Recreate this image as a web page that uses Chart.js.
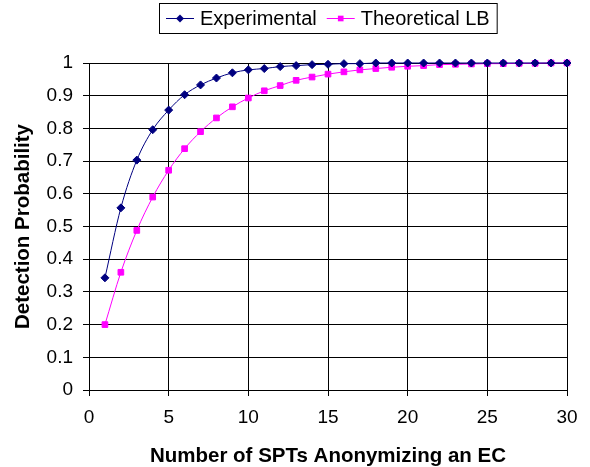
<!DOCTYPE html>
<html>
<head>
<meta charset="utf-8">
<script src="https://cdn.jsdelivr.net/npm/chart.js@4.4.1/dist/chart.umd.min.js"></script>
<style>
html,body{margin:0;padding:0;background:#fff;}
#wrap{width:590px;height:467px;}
</style>
</head>
<body>
<div id="wrap"><canvas id="c" width="590" height="467"></canvas></div>
<script>
const xValues = [1,2,3,4,5,6,7,8,9,10,11,12,13,14,15,16,17,18,19,20,21,22,23,24,25,26,27,28,29,30];
const experimental = [0.343,0.557,0.703,0.796,0.856,0.903,0.933,0.954,0.970,0.979,0.983,0.989,0.992,0.995,0.996,0.998,0.998,1.0,1.0,1.0,1.0,1.0,1.0,1.0,1.0,1.0,1.0,1.0,1.0,1.0];
const theoreticalLB = [0.200,0.360,0.488,0.590,0.672,0.738,0.790,0.832,0.866,0.893,0.915,0.931,0.947,0.957,0.966,0.973,0.979,0.983,0.987,0.990,0.992,0.995,0.996,0.997,0.998,0.998,0.999,0.999,1.0,1.0];
const seriesNames = ['Experimental','Theoretical LB'];
const xTickLabels = ['0','5','10','15','20','25','30'];
const yTickLabels = ['0','0.1','0.2','0.3','0.4','0.5','0.6','0.7','0.8','0.9','1'];
const xTitle = 'Number of SPTs Anonymizing an EC';
const yTitle = 'Detection Probability';

const FONT = "'Liberation Sans', Arial, sans-serif";
const NAVY = '#000080';
const MAGENTA = '#FF00FF';

const boxLegend = {
  id: 'boxLegend',
  afterDraw(chart) {
    const ctx = chart.ctx;
    const ca = chart.chartArea;
    ctx.save();
    ctx.font = "20px " + FONT;
    const pad = 7, lineLen = 28, gap = 6, itemGap = 10;
    const items = chart.data.datasets.map(d => ({
      label: d.label, color: d.borderColor, style: d.pointStyle, r: d.pointRadius,
      w: ctx.measureText(d.label).width
    }));
    let total = pad * 2;
    items.forEach((it, i) => { total += lineLen + gap + it.w + (i < items.length - 1 ? itemGap : 0); });
    const top = 3, h = 30;
    let left = Math.round((ca.left + ca.right) / 2 - total / 2);
    ctx.fillStyle = '#fff';
    ctx.fillRect(left, top, total, h);
    ctx.strokeStyle = '#000';
    ctx.lineWidth = 1;
    ctx.strokeRect(left + 0.5, top + 0.5, total, h);
    let x = left + pad;
    const cy = top + h / 2 + 0.5;
    items.forEach(it => {
      ctx.strokeStyle = it.color;
      ctx.lineWidth = 1;
      ctx.beginPath();
      ctx.moveTo(x, cy); ctx.lineTo(x + lineLen, cy);
      ctx.stroke();
      const mx = x + lineLen / 2;
      ctx.fillStyle = it.color;
      ctx.beginPath();
      if (it.style === 'rectRot') {
        ctx.moveTo(mx - it.r, cy); ctx.lineTo(mx, cy - it.r); ctx.lineTo(mx + it.r, cy); ctx.lineTo(mx, cy + it.r); ctx.closePath();
      } else {
        const s = it.r * Math.SQRT1_2;
        ctx.rect(mx - s, cy - s, 2 * s, 2 * s);
      }
      ctx.fill();
      x += lineLen + gap;
      ctx.fillStyle = '#000';
      ctx.textBaseline = 'middle';
      ctx.textAlign = 'left';
      ctx.fillText(it.label, x, cy + 1);
      x += it.w + itemGap;
    });
    ctx.restore();
  }
};

new Chart(document.getElementById('c'), {
  type: 'line',
  data: {
    datasets: [
      {
        label: seriesNames[0],
        data: xValues.map((x, i) => ({x: x, y: experimental[i]})),
        borderColor: NAVY, backgroundColor: NAVY,
        borderWidth: 1, pointStyle: 'rectRot', pointRadius: 4, pointBorderWidth: 1,
        cubicInterpolationMode: 'monotone', clip: false
      },
      {
        label: seriesNames[1],
        data: xValues.map((x, i) => ({x: x, y: theoreticalLB[i]})),
        borderColor: MAGENTA, backgroundColor: MAGENTA,
        borderWidth: 1, pointStyle: 'rect', pointRadius: 4, pointBorderWidth: 1,
        cubicInterpolationMode: 'monotone', clip: false
      }
    ]
  },
  plugins: [boxLegend],
  options: {
    responsive: false,
    animation: false,
    devicePixelRatio: 1,
    layout: { padding: { top: 63, right: 23, bottom: 0, left: 0 } },
    plugins: { legend: { display: false }, tooltip: { enabled: false } },
    scales: {
      x: {
        type: 'linear', min: 0, max: 30,
        afterFit(s) { s.height = 77; },
        ticks: {
          stepSize: 5, color: '#000', padding: 10, maxRotation: 0,
          font: { family: FONT, size: 19 },
          callback: (v) => xTickLabels[Math.round(v / 5)]
        },
        grid: { color: '#000', lineWidth: 1, tickLength: 6, tickColor: '#000' },
        border: { color: '#000', width: 1 },
        title: { display: true, text: xTitle, color: '#000', padding: { top: 0, bottom: 0 },
          font: { family: FONT, size: 20.5, weight: 'bold', lineHeight: 1 } }
      },
      y: {
        type: 'linear', min: 0, max: 1,
        afterFit(s) { s.width = 89; },
        ticks: {
          stepSize: 0.1, color: '#000', padding: 10,
          font: { family: FONT, size: 19 },
          callback: (v) => yTickLabels[Math.round(v * 10)]
        },
        grid: { color: '#000', lineWidth: 1, tickLength: 6, tickColor: '#000' },
        border: { color: '#000', width: 1 },
        title: { display: true, text: yTitle, color: '#000', padding: { top: 13, bottom: 0 },
          font: { family: FONT, size: 20.5, weight: 'bold', lineHeight: 1 } }
      }
    }
  }
});
</script>
</body>
</html>
